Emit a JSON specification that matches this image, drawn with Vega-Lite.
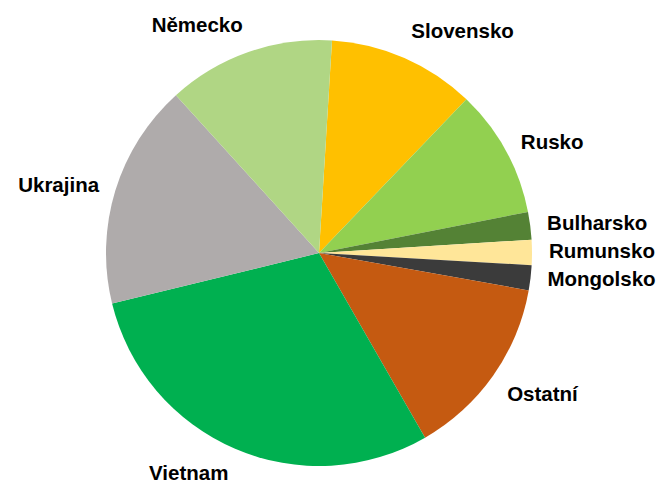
{
  "$schema": "https://vega.github.io/schema/vega-lite/v6.json",
  "width": 638,
  "height": 462,
  "padding": {"left": 0, "right": 29, "top": 22, "bottom": 0},
  "autosize": {"type": "none"},
  "background": "white",
  "view": {"stroke": null},
  "data": {"values": [
    {"zeme": "Slovensko", "podil": 11.2, "poradi": 1},
    {"zeme": "Rusko", "podil": 9.75, "poradi": 2},
    {"zeme": "Bulharsko", "podil": 2.1, "poradi": 3},
    {"zeme": "Rumunsko", "podil": 1.9, "poradi": 4},
    {"zeme": "Mongolsko", "podil": 1.9, "poradi": 5},
    {"zeme": "Ostatní", "podil": 13.9, "poradi": 6},
    {"zeme": "Vietnam", "podil": 29.5, "poradi": 7},
    {"zeme": "Ukrajina", "podil": 17.1, "poradi": 8},
    {"zeme": "Německo", "podil": 12.7, "poradi": 9}
  ]},
  "encoding": {
    "theta": {"field": "podil", "type": "quantitative", "stack": true, "scale": {"range": [0.0611, 6.3443]}},
    "order": {"field": "poradi", "type": "quantitative"}
  },
  "layer": [
    {
      "mark": {"type": "arc", "outerRadius": 213},
      "encoding": {
        "color": {
          "field": "zeme", "type": "nominal", "legend": null,
          "scale": {
            "domain": ["Slovensko", "Rusko", "Bulharsko", "Rumunsko", "Mongolsko", "Ostatní", "Vietnam", "Ukrajina", "Německo"],
            "range": ["#FFC000", "#92D050", "#548235", "#FFE699", "#3B3B3B", "#C55A11", "#00B050", "#AFABAB", "#B0D684"]
          }
        }
      }
    },
    {
      "mark": {
        "type": "text", "radius": 230, "font": "Liberation Sans", "fontSize": 20.5, "fontWeight": "bold", "color": "black",
        "align": {"expr": "datum.poradi <= 6 ? 'left' : 'right'"},
        "baseline": {"expr": "datum.poradi == 1 || datum.poradi == 9 ? 'bottom' : (datum.poradi == 6 || datum.poradi == 7 ? 'top' : 'middle')"}
      },
      "encoding": {"text": {"field": "zeme", "type": "nominal"}}
    }
  ]
}
